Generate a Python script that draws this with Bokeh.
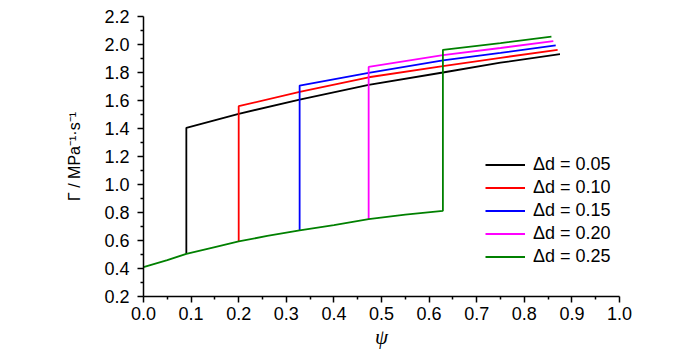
import numpy as np
from bokeh.plotting import figure
from bokeh.models import Range1d, FixedTicker, PrintfTickFormatter
from bokeh.embed import file_html
from bokeh.resources import INLINE

# ---- data ----
lower_psi = [0.0, 0.05, 0.09, 0.15, 0.20, 0.26, 0.328, 0.40, 0.473, 0.55, 0.629]
lower_gamma = [0.41, 0.46, 0.505, 0.553, 0.593, 0.633, 0.672, 0.71, 0.752, 0.785, 0.812]

jump_psi = [0.09, 0.20, 0.328, 0.473, 0.629]
delta_d = ["0.05", "0.10", "0.15", "0.20", "0.25"]

upper_psi = [
    [0.09, 0.20, 0.328, 0.473, 0.629, 0.75, 0.875],
    [0.20, 0.328, 0.473, 0.629, 0.75, 0.870],
    [0.328, 0.473, 0.629, 0.75, 0.866],
    [0.473, 0.629, 0.75, 0.861],
    [0.629, 0.75, 0.857],
]
upper_gamma = [
    [1.405, 1.505, 1.607, 1.712, 1.800, 1.870, 1.931],
    [1.559, 1.662, 1.766, 1.845, 1.905, 1.962],
    [1.707, 1.798, 1.886, 1.940, 1.993],
    [1.840, 1.924, 1.975, 2.024],
    [1.962, 2.010, 2.057],
]
colors = ["#000000", "#ff0000", "#0000ff", "#ff00ff", "#008000"]

x_ticks = [0.0, 0.1, 0.2, 0.3, 0.4, 0.5, 0.6, 0.7, 0.8, 0.9, 1.0]
y_ticks = [0.2, 0.4, 0.6, 0.8, 1.0, 1.2, 1.4, 1.6, 1.8, 2.0, 2.2]

FONT = "Liberation Sans"
SERIF = "Liberation Serif"

p = figure(width=700, height=357, output_backend="svg", toolbar_location=None,
           x_range=Range1d(0, 1), y_range=Range1d(0.2, 2.2),
           min_border_left=143, min_border_right=81, min_border_top=16, min_border_bottom=61)
p.outline_line_color = None
p.grid.visible = False
p.background_fill_color = "white"
p.border_fill_color = "white"

x_minor = list((np.array(x_ticks[:-1]) + np.array(x_ticks[1:])) / 2)
y_minor = list((np.array(y_ticks[:-1]) + np.array(y_ticks[1:])) / 2)
p.xaxis.ticker = FixedTicker(ticks=x_ticks, minor_ticks=x_minor)
p.yaxis.ticker = FixedTicker(ticks=y_ticks, minor_ticks=y_minor)
p.xaxis.formatter = PrintfTickFormatter(format="%.1f")
p.yaxis.formatter = PrintfTickFormatter(format="%.1f")

for ax in (p.xaxis[0], p.yaxis[0]):
    ax.axis_line_width = 1.5
    ax.axis_line_color = "black"
    ax.major_tick_line_width = 1.5
    ax.minor_tick_line_width = 1.5
    ax.major_tick_line_color = "black"
    ax.minor_tick_line_color = "black"
    ax.major_tick_in = 0
    ax.major_tick_out = 6
    ax.minor_tick_in = 0
    ax.minor_tick_out = 3
    ax.major_label_text_font = FONT
    ax.major_label_text_font_size = "18px"
    ax.major_label_text_color = "black"

p.xaxis.major_label_standoff = 4
p.yaxis.major_label_standoff = 8

p.xaxis.axis_label = "ψ"
p.xaxis.axis_label_text_font = SERIF
p.xaxis.axis_label_text_font_style = "italic"
p.xaxis.axis_label_text_font_size = "21px"
p.xaxis.axis_label_standoff = 2
p.xaxis.axis_label_text_color = "black"

p.yaxis.axis_label = "Γ / MPa⁻¹·s⁻¹"
p.yaxis.axis_label_text_font = FONT
p.yaxis.axis_label_text_font_style = "normal"
p.yaxis.axis_label_text_font_size = "16px"
p.yaxis.axis_label_standoff = 18
p.yaxis.axis_label_text_color = "black"

for i in range(len(jump_psi)):
    if i == len(jump_psi) - 1:
        lp = [x for x in lower_psi if x <= jump_psi[i]]
    else:
        lp = [jump_psi[i]]
    lg = [lower_gamma[lower_psi.index(x)] for x in lp]
    xs = lp + upper_psi[i]
    ys = lg + upper_gamma[i]
    p.line(xs, ys, line_color=colors[i], line_width=1.8,
           legend_label="Δd = " + delta_d[i])

leg = p.legend[0]
leg.location = (342, 28)
leg.background_fill_alpha = 0
leg.border_line_color = None
leg.padding = 0
leg.margin = 0
leg.spacing = 0
leg.glyph_width = 40
leg.glyph_height = 23
leg.label_height = 23
leg.label_standoff = 8
leg.label_text_font = FONT
leg.label_text_font_size = "18px"
leg.label_text_color = "black"

open("out.html", "w").write(file_html(p, INLINE))
